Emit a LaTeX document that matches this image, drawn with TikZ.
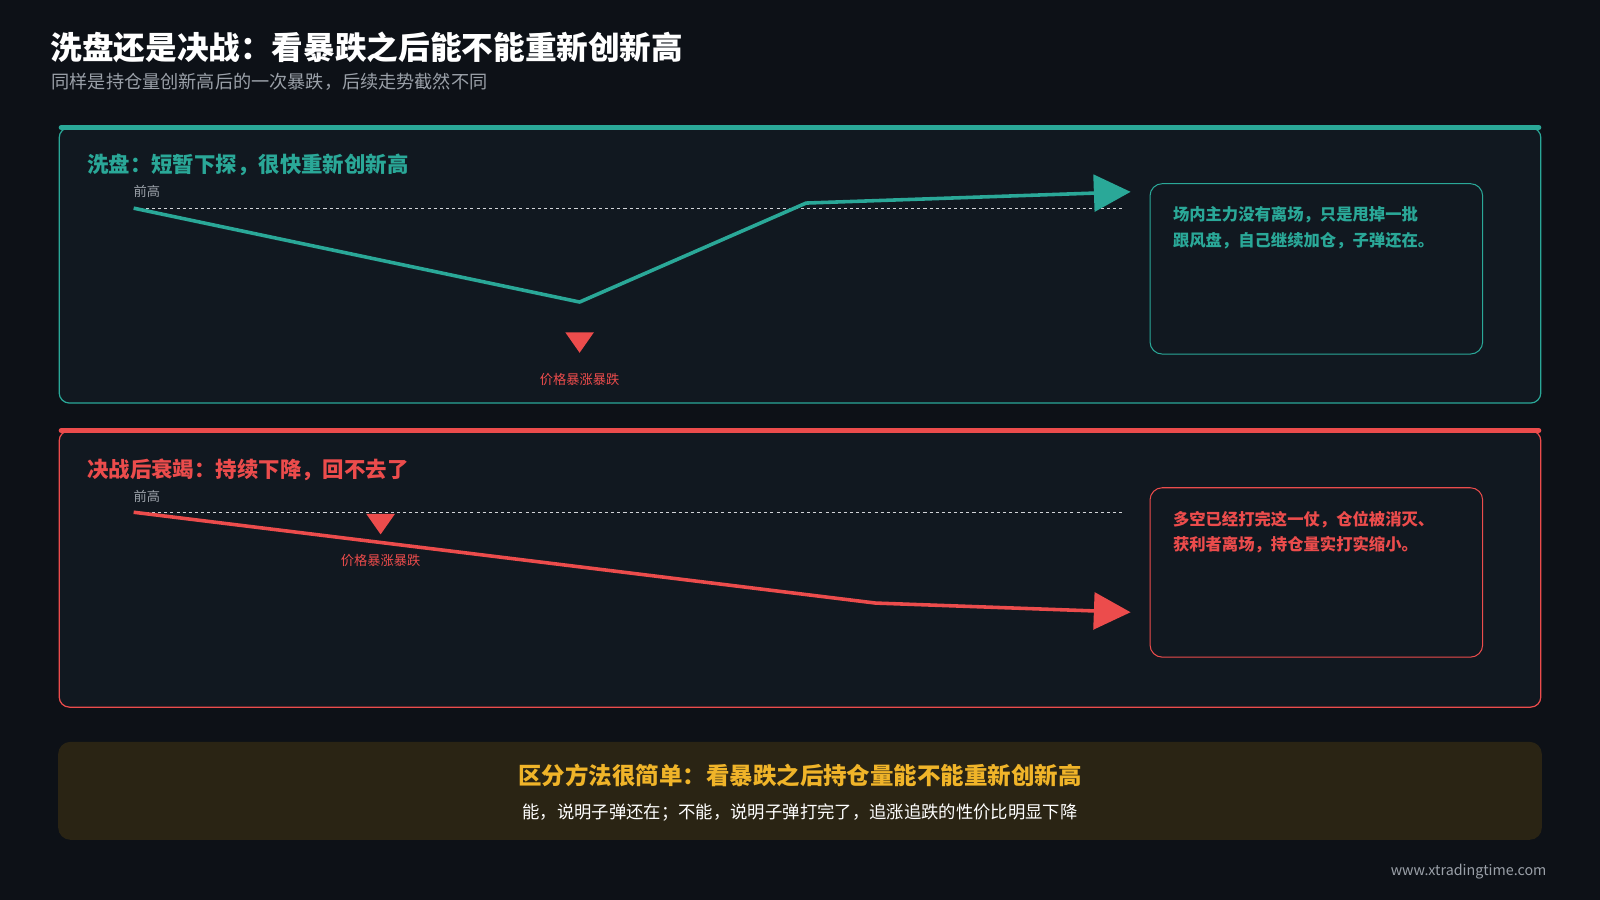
\documentclass[tikz,border=0pt]{standalone}
\usepackage{fontspec}
\setmainfont{Noto Sans CJK SC}
\usetikzlibrary{arrows.meta,positioning,shapes.geometric}
\definecolor{bgc}{HTML}{0D1117}
\definecolor{panelc}{HTML}{111820}
\definecolor{tealc}{HTML}{2AA898}
\definecolor{redc}{HTML}{EC4C4C}
\definecolor{goldc}{HTML}{F0B429}
\definecolor{goldbg}{HTML}{2A2414}
\definecolor{grayc}{HTML}{9AA0A8}
\tikzset{
  panel/.style={draw=#1,line width=1.2pt,fill=panelc,rounded corners=10pt},
  topbar/.style={draw=#1,line width=5pt,line cap=round},
  head/.style={anchor=west,text=#1,font=\fontsize{21}{24}\selectfont\bfseries},
  small/.style={text=#1,font=\fontsize{13}{15}\selectfont},
  note/.style={anchor=north west,text=#1,align=left,font=\fontsize{16}{25}\selectfont\bfseries},
  pbox/.style={draw=#1,line width=1pt,fill=panelc,rounded corners=12pt},
  price/.style={line width=3.5pt,draw=#1,line join=round,-{Triangle[length=36pt,width=36pt]}},
  mark/.style={fill=#1,isosceles triangle,shape border rotate=-90,isosceles triangle apex angle=70,inner sep=0pt,minimum height=20pt},
  level/.style={draw=grayc!45,dashed,line width=0.6pt}
}
\begin{document}
\begin{tikzpicture}[x=1pt,y=-1pt]
  \fill[bgc] (0,0) rectangle (1568,882);
  \useasboundingbox (0,0) rectangle (1568,882);
  % title
  \node[anchor=west,text=white,font=\fontsize{31}{34}\selectfont\bfseries] (title) at (46,46) {洗盘还是决战：看暴跌之后能不能重新创新高};
  \node[anchor=west,text=grayc,font=\fontsize{17.8}{20}\selectfont] (subtitle) at (47,80) {同样是持仓量创新高后的一次暴跌，后续走势截然不同};
  % panel 1
  \draw[panel=tealc] (58,125) rectangle (1510,395);
  \draw[topbar=tealc] (60,125) -- (1508,125);
  \node[head=tealc] (h1) at (82,162) {洗盘：短暂下探，很快重新创新高};
  \node[small=grayc] (hi1) at (144,188) {前高};
  \draw[level] (131,204) -- (1100,204);
  \coordinate (a0) at (131,204);
  \coordinate (a1) at (568,296);
  \coordinate (a2) at (790,199);
  \coordinate (a3) at (1108,188);
  \draw[price=tealc] (a0) -- (a1) -- (a2) -- (a3);
  \node[mark=redc] (m1) at (568,333) {};
  \node[small=redc] (l1) at (568,372) {价格暴涨暴跌};
  \draw[pbox=tealc] (1127,180) rectangle (1453,347);
  \node[note=tealc] (n1) at (1146,199) {场内主力没有离场，只是甩掉一批\\跟风盘，自己继续加仓，子弹还在。};
  % panel 2
  \draw[panel=redc] (58,422) rectangle (1510,693);
  \draw[topbar=redc] (60,422) -- (1508,422);
  \node[head=redc] (h2) at (82,460) {决战后衰竭：持续下降，回不去了};
  \node[small=grayc] (hi2) at (144,486) {前高};
  \draw[level] (131,502) -- (1100,502);
  \coordinate (b0) at (131,502);
  \coordinate (b1) at (858,591);
  \coordinate (b2) at (1108,600);
  \draw[price=redc] (b0) -- (b1) -- (b2);
  \node[mark=redc] (m2) at (373,511) {};
  \node[small=redc] (l2) at (373,549) {价格暴涨暴跌};
  \draw[pbox=redc] (1127,478) rectangle (1453,644);
  \node[note=redc] (n2) at (1146,497) {多空已经打完这一仗，仓位被消灭、\\获利者离场，持仓量实打实缩小。};
  % summary
  \fill[goldbg,rounded corners=12pt] (57,727) rectangle (1511,823);
  \node[text=goldc,font=\fontsize{23}{26}\selectfont\bfseries] (s1) at (784,760) {区分方法很简单：看暴跌之后持仓量能不能重新创新高};
  \node[text=white,font=\fontsize{17}{20}\selectfont] (s2) at (784,796) {能，说明子弹还在；不能，说明子弹打完了，追涨追跌的性价比明显下降};
  \node[anchor=east,text=grayc,font=\fontsize{14}{16}\selectfont] (url) at (1519,854) {www.xtradingtime.com};
\end{tikzpicture}
\end{document}
